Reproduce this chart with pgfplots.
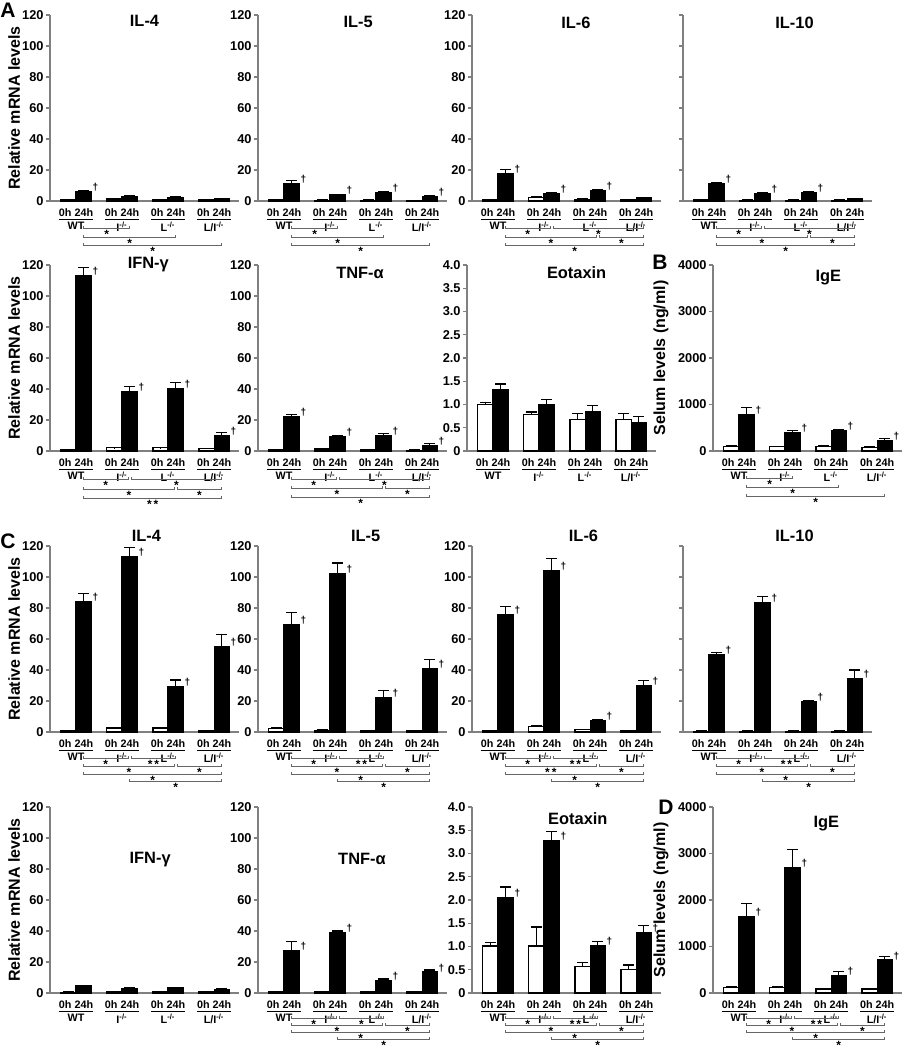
\documentclass[border=0pt]{standalone}
\usepackage{fontspec}
\setmainfont{Liberation Sans}
\usepackage{pgfplots}
\usepackage{pgfplotstable}
\pgfplotsset{compat=1.18}

% g = group, y0/e0 = 0h bar, y1/e1 = 24h bar, d = dagger on 24h bar
\pgfplotstableread{
g y0 e0 y1 e1 d
1 1.0 0.2 5.8 0.7 1
2 1.3 0.2 3.0 0.3 0
3 0.7 0.1 2.4 0.3 0
4 0.6 0.1 1.5 0.2 0
}\tAa
\pgfplotstableread{
g y0 e0 y1 e1 d
1 0.8 0.1 11.0 2.4 1
2 0.5 0.1 4.1 0.3 1
3 0.5 0.1 5.4 0.5 1
4 0.3 0.1 3.0 0.5 1
}\tAb
\pgfplotstableread{
g y0 e0 y1 e1 d
1 1.0 0.1 17.5 2.6 1
2 2.4 0.3 5.0 0.4 1
3 1.2 0.2 6.7 0.9 1
4 0.7 0.1 2.0 0.3 0
}\tAc
\pgfplotstableread{
g y0 e0 y1 e1 d
1 0.8 0.1 11.3 0.7 1
2 0.5 0.1 4.9 0.4 1
3 0.5 0.1 5.3 0.7 1
4 0.5 0.1 1.3 0.2 0
}\tAd
\pgfplotstableread{
g y0 e0 y1 e1 d
1 1.0 0.1 112.9 5.6 1
2 2.0 0.2 38.1 3.3 1
3 2.0 0.2 40.3 4.1 1
4 1.5 0.2 10.1 1.8 1
}\tBa
\pgfplotstableread{
g y0 e0 y1 e1 d
1 0.8 0.1 22.4 1.1 1
2 1.3 0.2 9.1 0.8 1
3 0.8 0.1 9.7 1.7 1
4 0.5 0.1 3.7 1.0 1
}\tBb
\pgfplotstableread{
g y0 e0 y1 e1 d
1 1.00 0.05 1.33 0.11 0
2 0.78 0.06 1.00 0.11 0
3 0.68 0.13 0.84 0.13 0
4 0.68 0.13 0.62 0.12 0
}\tBc
\pgfplotstableread{
g y0 e0 y1 e1 d
1 90 25 780 150 1
2 90 10 395 50 1
3 90 20 430 35 1
4 75 20 215 55 1
}\tBd
\pgfplotstableread{
g y0 e0 y1 e1 d
1 0.8 0.1 84 5.5 1
2 2.6 0.4 113 6 1
3 2.6 0.4 29 4.5 1
4 0.7 0.1 55 8 1
}\tCa
\pgfplotstableread{
g y0 e0 y1 e1 d
1 2.5 0.4 69 8 1
2 1.2 0.2 102 7 1
3 1.0 0.2 22 5 1
4 1.0 0.2 41 6 1
}\tCb
\pgfplotstableread{
g y0 e0 y1 e1 d
1 1.0 0.2 76 5 1
2 3.5 0.5 104 8 1
3 1.5 0.2 7.5 0.6 1
4 1.0 0.2 30 3 1
}\tCc
\pgfplotstableread{
g y0 e0 y1 e1 d
1 0.5 0.1 49.7 1.8 1
2 0.5 0.1 83.2 4.4 1
3 0.5 0.1 19.5 1.0 1
4 0.5 0.1 34.2 5.8 1
}\tCd
\pgfplotstableread{
g y0 e0 y1 e1 d
1 0.5 0.1 4.5 0.5 0
2 1.0 0.2 3.0 0.3 0
3 1.0 0.2 3.5 0.3 0
4 1.0 0.2 2.5 0.3 0
}\tDa
\pgfplotstableread{
g y0 e0 y1 e1 d
1 1.0 0.2 27.6 5.4 1
2 1.0 0.2 39.0 1.0 1
3 1.0 0.2 7.7 1.3 1
4 1.0 0.2 13.5 1.3 1
}\tDb
\pgfplotstableread{
g y0 e0 y1 e1 d
1 1.01 0.07 2.06 0.22 1
2 1.01 0.41 3.27 0.20 1
3 0.57 0.09 1.02 0.08 1
4 0.50 0.10 1.30 0.16 1
}\tDc
\pgfplotstableread{
g y0 e0 y1 e1 d
1 120 10 1635 292 1
2 124 15 2693 387 1
3 88 10 380 87 1
4 88 10 708 73 1
}\tDd

\newcommand\ko[1]{#1\textsuperscript{-/-}}
\newcommand\bars[1]{%
  \addplot[wbar] table[x expr=\thisrow{g}-0.165, y=y0, y error plus=e0] {#1};
  \addplot[bbar] table[x expr=\thisrow{g}+0.165, y=y1, y error plus=e1] {#1};
  \addplot[cap] table[x expr=\thisrow{g}-0.165, y expr=\thisrow{y0}+\thisrow{e0}] {#1};
  \addplot[cap] table[x expr=\thisrow{g}+0.165, y expr=\thisrow{y1}+\thisrow{e1}] {#1};}
\newcommand\dags[1]{%
  \addplot[dag, restrict expr to domain={\thisrow{d}}{0.5:1.5}]
    table[x expr=\thisrow{g}+0.35, y=y1] {#1};}
% significance bracket: from, to, depth below axis (px), label
\newcommand\brk[4]{%
  \draw[brk] ([yshift={-(#3-2.5)*0.5pt}]axis cs:#1,0)
    -- ([yshift={-#3*0.5pt}]axis cs:#1,0)
    -- node[star] {#4} ([yshift={-#3*0.5pt}]axis cs:#2,0)
    -- ([yshift={-(#3-2.5)*0.5pt}]axis cs:#2,0);}
\newcommand\brkP[3]{% WT vs each
  \brk{1.165}{2.165}{#1}{*}\brk{1.165}{3.165}{#2}{*}\brk{1.165}{4.165}{#3}{*}}
\newcommand\brkQ[4]{%
  \brk{1.165}{2.13}{#1}{*}\brk{2.2}{4.165}{#1}{*}%
  \brk{1.165}{3.13}{#2}{*}\brk{3.2}{4.165}{#2}{*}%
  \brk{1.165}{4.165}{#3}{#4}}
\newcommand\brkR[6]{% labels of (I,L) and (WT,L); depths of four levels
  \brk{1.165}{2.13}{#3}{*}\brk{2.2}{3.165}{#3}{#1}%
  \brk{1.165}{3.13}{#4}{#2}\brk{3.2}{4.165}{#4}{*}%
  \brk{1.165}{4.165}{#5}{*}\brk{2.165}{4.165}{#6}{*}}

\tikzset{
  brk/.style={black!60, line width=0.5pt},
  star/.style={font=\bfseries\fontsize{6}{6}\selectfont, text=black, anchor=north,
    inner sep=0pt, yshift=-0.4pt},
}
\pgfplotsset{
  panel/.style={
    scale only axis, width=94.5pt, height=93pt,
    xmin=0.435, xmax=4.54, ymin=0,
    axis lines*=left, clip=false,
    axis line style={black!50, line width=0.6pt},
    xtick={1,2,3,4},
    xticklabels={{\underline{0h 24h}\\WT},{\underline{0h 24h}\\\ko{I}},
      {\underline{0h 24h}\\\ko{L}},{\underline{0h 24h}\\\ko{L/I}}},
    xtick style={draw=none},
    ytick style={black!50, line width=0.6pt},
    tick align=outside, major tick length=2pt,
    xticklabel style={align=center, font=\bfseries\fontsize{5.4}{5.6}\selectfont,
      inner sep=0pt, yshift=-1.5pt},
    yticklabel style={font=\bfseries\fontsize{6.4}{7}\selectfont, inner sep=1pt},
    every axis title shift=0pt,
    title style={anchor=center, font=\bfseries\fontsize{8.2}{9}\selectfont},
    ylabel style={at={(axis description cs:-0.19,0.5)}, anchor=center,
      font=\bfseries\fontsize{8}{9}\selectfont},
  },
  mrna/.style={ymax=120, ytick={0,20,...,120}, yticklabels={0,20,40,60,80,100,120}},
  eot/.style={ymax=4, ytick={0,0.5,...,4},
    yticklabels={0,0.5,1.0,1.5,2.0,2.5,3.0,3.5,4.0}},
  ige/.style={ymax=4000, ytick={0,1000,...,4000}, yticklabels={0,1000,2000,3000,4000},
    ylabel={Selum levels (ng/ml)},
    ylabel style={at={(axis description cs:-0.275,0.5)}}},
  wbar/.style={ybar, bar width=0.33, bar shift=0pt, fill=white, draw=black,
    line width=0.6pt,
    error bars/y explicit, error bars/y dir=plus,
    error bars/error mark=none,
    error bars/error bar style={line width=0.6pt, black}},
  bbar/.style={wbar, fill=black},
  cap/.style={only marks, mark=-, mark size=2.7pt,
    mark options={line width=0.6pt, black}},
  dag/.style={only marks, black, mark=text, text mark={\textdagger},
    text mark as node=true,
    text mark style={font=\bfseries\fontsize{5}{5}\selectfont, inner sep=0pt,
      anchor=south west}},
}

\begin{document}
\begin{tikzpicture}
\path[use as bounding box] (0,0) rectangle (457pt,525pt);

% ---- row A
\begin{axis}[panel, mrna, at={(25pt,424.5pt)}, title={IL-4},
  title style={at={(0.5,0.97)}}, ylabel={Relative mRNA levels}]
\bars\tAa \dags\tAa
\brkP{28}{37}{45}
\end{axis}
\begin{axis}[panel, mrna, at={(129pt,424.5pt)}, title={IL-5},
  title style={at={(0.53,0.96)}}]
\bars\tAb \dags\tAb
\brkP{28}{37}{45}
\end{axis}
\begin{axis}[panel, mrna, at={(236pt,424.5pt)}, title={IL-6},
  title style={at={(0.55,0.96)}}]
\bars\tAc \dags\tAc
\brkQ{28}{37}{45}{*}
\end{axis}
\begin{axis}[panel, mrna, at={(341.5pt,424.5pt)}, title={IL-10},
  title style={at={(0.59,0.96)}}, yticklabels={}]
\bars\tAd \dags\tAd
\brkQ{28}{37}{45}{*}
\end{axis}

% ---- row B
\begin{axis}[panel, mrna, at={(25pt,299.5pt)}, title={IFN-γ},
  title style={at={(0.52,1.0)}}, ylabel={Relative mRNA levels}]
\bars\tBa \dags\tBa
\brkQ{28.5}{38.5}{47.5}{*\,*}
\end{axis}
\begin{axis}[panel, mrna, at={(129pt,299.5pt)}, title={TNF-α},
  title style={at={(0.54,0.957)}}]
\bars\tBb \dags\tBb
\brkQ{28.5}{38}{46.5}{*}
\end{axis}
\begin{axis}[panel, eot, at={(233.5pt,299.5pt)}, title={Eotaxin},
  title style={at={(0.58,0.957)}}]
\bars\tBc
\end{axis}
\begin{axis}[panel, ige, at={(356.5pt,299.5pt)}, title={IgE},
  title style={at={(0.61,0.93)}}]
\bars\tBd \dags\tBd
\brkP{28}{37}{45.5}
\end{axis}

% ---- row C
\begin{axis}[panel, mrna, at={(25pt,159pt)}, title={IL-4},
  title style={at={(0.51,1.053)}}, ylabel={Relative mRNA levels}]
\bars\tCa \dags\tCa
\brkR{*\,*}{*}{27}{35}{42.5}{49.5}
\end{axis}
\begin{axis}[panel, mrna, at={(129pt,159pt)}, title={IL-5},
  title style={at={(0.57,1.053)}}]
\bars\tCb \dags\tCb
\brkR{*\,*}{*}{27}{35}{42.5}{49.5}
\end{axis}
\begin{axis}[panel, mrna, at={(236pt,159pt)}, title={IL-6},
  title style={at={(0.59,1.053)}}]
\bars\tCc \dags\tCc
\brkR{*\,*}{*\,*}{27}{35}{42.5}{49.5}
\end{axis}
\begin{axis}[panel, mrna, at={(341.5pt,159pt)}, title={IL-10},
  title style={at={(0.59,1.053)}}, yticklabels={}]
\bars\tCd \dags\tCd
\brkR{*\,*}{*}{27}{35}{42.5}{49.5}
\end{axis}

% ---- row D
\begin{axis}[panel, mrna, at={(25pt,28.5pt)}, title={IFN-γ},
  title style={at={(0.53,0.72)}}, ylabel={Relative mRNA levels}]
\bars\tDa
\end{axis}
\begin{axis}[panel, mrna, at={(129pt,28.5pt)}, title={TNF-α},
  title style={at={(0.55,0.72)}}]
\bars\tDb \dags\tDb
\brkR{*}{*}{25.5}{33}{40}{46.5}
\end{axis}
\begin{axis}[panel, eot, at={(236pt,28.5pt)}, title={Eotaxin},
  title style={at={(0.56,0.94)}}]
\bars\tDc \dags\tDc
\brkR{*\,*}{*}{25.5}{33}{40}{46.5}
\end{axis}
\begin{axis}[panel, ige, at={(356.5pt,28.5pt)}, title={IgE},
  title style={at={(0.60,0.91)}}]
\bars\tDd \dags\tDd
\brkR{*\,*}{*}{25.5}{33}{40}{46.5}
\end{axis}

\begin{scope}[every node/.style={font=\bfseries\fontsize{10.5}{12}\selectfont, inner sep=0pt}]
\node at (4pt,520pt) {A};
\node at (330pt,394pt) {B};
\node at (4pt,254.5pt) {C};
\node at (333pt,121.5pt) {D};
\end{scope}
\end{tikzpicture}
\end{document}
